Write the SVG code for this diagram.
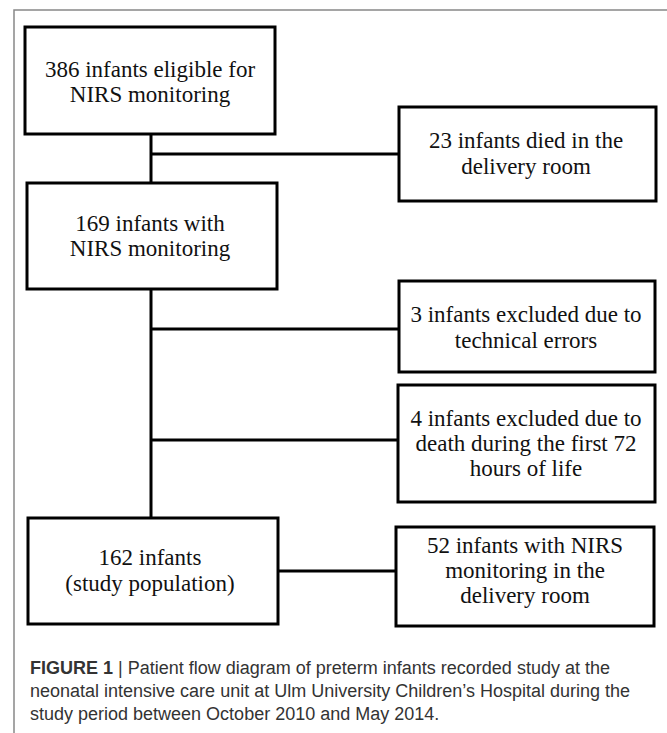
<svg xmlns="http://www.w3.org/2000/svg" width="667" height="733" viewBox="0 0 667 733">
<style>
.box{fill:#fff;stroke:#000;stroke-width:3}
.t{font-family:"Liberation Serif","Times New Roman",serif;font-size:23px;fill:#111;text-anchor:middle}
.con{stroke:#000;stroke-width:3;fill:none}
.cap{font-family:"Liberation Sans",Arial,sans-serif;font-size:18px;fill:#333}
.frame{stroke:#888;stroke-width:1.5;fill:none}
</style>
<rect width="667" height="733" fill="#fff"/>
<path class="frame" d="M14,733 V10 H667"/>
<g id="connectors">
<path class="con" d="M151,134 V182"/>
<path class="con" d="M151,154 H399"/>
<path class="con" d="M151,289 V518"/>
<path class="con" d="M151,329 H399"/>
<path class="con" d="M151,440 H398"/>
<path class="con" d="M278,571 H396"/>
</g>
<g id="n1">
<rect class="box" x="25" y="27" width="250" height="107"/>
<text class="t" x="150" y="77">386 infants eligible for</text>
<text class="t" x="150" y="102">NIRS monitoring</text>
</g>
<g id="n2">
<rect class="box" x="399" y="107" width="257" height="94"/>
<text class="t" x="526" y="148">23 infants died in the</text>
<text class="t" x="526" y="174">delivery room</text>
</g>
<g id="n3">
<rect class="box" x="27" y="183" width="250" height="106"/>
<text class="t" x="150" y="231">169 infants with</text>
<text class="t" x="150" y="256">NIRS monitoring</text>
</g>
<g id="n4">
<rect class="box" x="399" y="281" width="256" height="91"/>
<text class="t" x="526" y="322">3 infants excluded due to</text>
<text class="t" x="526" y="348">technical errors</text>
</g>
<g id="n5">
<rect class="box" x="398" y="385" width="257" height="117"/>
<text class="t" x="526" y="426">4 infants excluded due to</text>
<text class="t" x="526" y="451">death during the first 72</text>
<text class="t" x="526" y="476">hours of life</text>
</g>
<g id="n6">
<rect class="box" x="28" y="518" width="250" height="106"/>
<text class="t" x="150" y="565">162 infants</text>
<text class="t" x="150" y="591">(study population)</text>
</g>
<g id="n7">
<rect class="box" x="396" y="527" width="258" height="99"/>
<text class="t" x="525" y="553">52 infants with NIRS</text>
<text class="t" x="525" y="578">monitoring in the</text>
<text class="t" x="525" y="603">delivery room</text>
</g>
<g id="caption">
<text class="cap" x="30" y="674"><tspan font-weight="bold">FIGURE 1</tspan> | Patient flow diagram of preterm infants recorded study at the</text>
<text class="cap" x="30" y="697">neonatal intensive care unit at Ulm University Children’s Hospital during the</text>
<text class="cap" x="30" y="720">study period between October 2010 and May 2014.</text>
</g>
</svg>
